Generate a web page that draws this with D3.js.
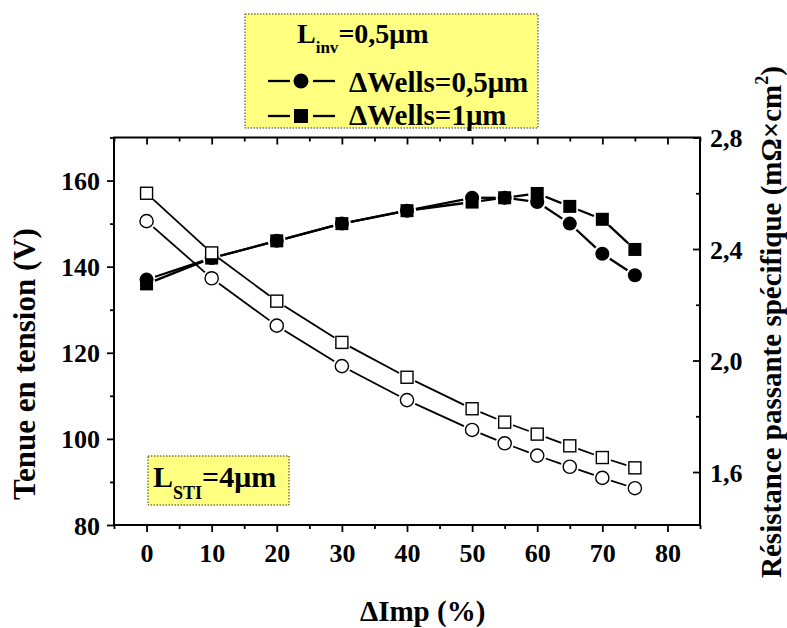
<!DOCTYPE html>
<html>
<head>
<meta charset="utf-8">
<script src="https://cdn.jsdelivr.net/npm/d3@7"></script>
<style>
  html, body { margin: 0; padding: 0; background: #fff; }
  svg { display: block; }
</style>
</head>
<body>
<svg id="chart" width="787" height="628"></svg>
<script>
// ---- data ----
const impValues = [0, 10, 20, 30, 40, 50, 55, 60, 65, 70, 75];
const bvWells05 = [137, 142, 146, 150, 153, 156, 156, 155, 150, 143, 138];
const bvWells1  = [136, 142, 146, 150, 153, 155, 156, 157, 154, 151, 144];
const ronWells05 = [2.50, 2.295, 2.125, 1.98, 1.858, 1.751, 1.703, 1.659, 1.619, 1.579, 1.542];
const ronWells1  = [2.60, 2.386, 2.213, 2.065, 1.94, 1.827, 1.779, 1.736, 1.694, 1.652, 1.615];
const xTicks = [0, 10, 20, 30, 40, 50, 60, 70, 80];
const xMinorTicks = [-5, 5, 15, 25, 35, 45, 55, 65, 75, 85];
const yLeftTicks = [80, 100, 120, 140, 160];
const yLeftMinor = [90, 110, 130, 150, 170];
const yRightTicks = [1.6, 2.0, 2.4, 2.8];
const yRightTickLabels = ["1,6", "2,0", "2,4", "2,8"];
const yRightMinor = [1.8, 2.2, 2.6];

const FONT = "Liberation Serif";
const svg = d3.select("#chart");
const L = 114, R = 700, T = 137.5, B = 525;
const x = d3.scaleLinear().domain([-5, 85]).range([L, R]);
const yL = d3.scaleLinear().domain([80, 170]).range([B, T]);
const yR = d3.scaleLinear().domain([1.41, 2.8]).range([B, T]);
const yellow = "#ffff80";

function txt(sel) {
  return sel.attr("font-family", FONT).attr("font-weight", "bold").attr("fill", "#000");
}

// ---- axes ----
function styleAxis(g) {
  g.attr("font-family", FONT).attr("font-weight", "bold");
  g.select(".domain").remove();
  g.selectAll(".tick line").attr("stroke", "#000").attr("stroke-width", 1.8);
  g.selectAll(".tick text").attr("font-family", FONT).attr("font-weight", "bold").attr("fill", "#000");
}
// bottom (outward)
svg.append("g").attr("transform", `translate(0,${B})`)
  .call(d3.axisBottom(x).tickValues(xTicks).tickSize(7).tickPadding(8).tickFormat(d3.format("d")))
  .call(styleAxis)
  .call(g => g.selectAll("text").attr("font-size", 26).attr("dy", null).attr("y", 37));
svg.append("g").attr("transform", `translate(0,${B})`)
  .call(d3.axisBottom(x).tickValues(xMinorTicks).tickSize(4).tickFormat(""))
  .call(styleAxis);
// top (inward)
svg.append("g").attr("transform", `translate(0,${T})`)
  .call(d3.axisTop(x).tickValues(xTicks).tickSize(-7).tickFormat(""))
  .call(styleAxis);
svg.append("g").attr("transform", `translate(0,${T})`)
  .call(d3.axisTop(x).tickValues(xMinorTicks).tickSize(-4).tickFormat(""))
  .call(styleAxis);
// left (outward)
svg.append("g").attr("transform", `translate(${L},0)`)
  .call(d3.axisLeft(yL).tickValues(yLeftTicks).tickSize(7).tickPadding(7).tickFormat(d3.format("d")))
  .call(styleAxis)
  .call(g => g.selectAll("text").attr("font-size", 26).attr("dy", null).attr("y", 9));
svg.append("g").attr("transform", `translate(${L},0)`)
  .call(d3.axisLeft(yL).tickValues(yLeftMinor).tickSize(4).tickFormat(""))
  .call(styleAxis);
// right (inward)
svg.append("g").attr("transform", `translate(${R},0)`)
  .call(d3.axisRight(yR).tickValues(yRightTicks).tickSize(-7).tickPadding(17)
    .tickFormat((d, i) => yRightTickLabels[i]))
  .call(styleAxis)
  .call(g => g.selectAll("text").attr("font-size", 26).attr("dy", null).attr("y", 9).attr("x", 10));
svg.append("g").attr("transform", `translate(${R},0)`)
  .call(d3.axisRight(yR).tickValues(yRightMinor).tickSize(-4).tickFormat(""))
  .call(styleAxis);

// frame
svg.append("rect").attr("x", L).attr("y", T).attr("width", R - L).attr("height", B - T)
  .attr("fill", "none").attr("stroke", "#000").attr("stroke-width", 2);

// ---- series ----
function gappedSegments(pts, gap, width) {
  const g = svg.append("g");
  for (let i = 0; i < pts.length - 1; i++) {
    const [x0, y0] = pts[i], [x1, y1] = pts[i + 1];
    const dx = x1 - x0, dy = y1 - y0, len = Math.hypot(dx, dy);
    if (len <= 2 * gap) continue;
    const ux = dx / len, uy = dy / len;
    g.append("line")
      .attr("x1", x0 + ux * gap).attr("y1", y0 + uy * gap)
      .attr("x2", x1 - ux * gap).attr("y2", y1 - uy * gap)
      .attr("stroke", "#000").attr("stroke-width", width);
  }
}
function drawSeries(vals, yScale, shape, filled, lw) {
  const pts = impValues.map((v, i) => [x(v), yScale(vals[i])]);
  gappedSegments(pts, 9, lw);
  const g = svg.append("g");
  pts.forEach(([px, py]) => {
    if (shape === "circle") {
      g.append("circle").attr("cx", px).attr("cy", py).attr("r", filled ? 7 : 6.6)
        .attr("fill", filled ? "#000" : "#fff").attr("stroke", "#000").attr("stroke-width", filled ? 0 : 1.4);
    } else {
      const s = filled ? 13 : 12;
      g.append("rect").attr("x", px - s / 2).attr("y", py - s / 2).attr("width", s).attr("height", s)
        .attr("fill", filled ? "#000" : "#fff").attr("stroke", "#000").attr("stroke-width", filled ? 0 : 1.4);
    }
  });
}
drawSeries(bvWells05, yL, "circle", true, 2.3);
drawSeries(bvWells1, yL, "square", true, 2.3);
drawSeries(ronWells05, yR, "circle", false, 1.8);
drawSeries(ronWells1, yR, "square", false, 1.8);

// ---- axis titles ----
svg.append("text").call(txt).attr("x", 360).attr("y", 621).attr("font-size", 29).text("ΔImp (%)");
svg.append("text").call(txt).attr("transform", "translate(35,364) rotate(-90)")
  .attr("text-anchor", "middle").attr("font-size", 31).text("Tenue en tension (V)");
const rt = svg.append("text").call(txt).attr("transform", "translate(781,322) rotate(-90)")
  .attr("text-anchor", "middle").attr("font-size", 29);
rt.append("tspan").text("Résistance passante spécifique (mΩ×cm");
rt.append("tspan").attr("dy", -13).attr("font-size", 18).text("2");
rt.append("tspan").attr("dy", 13).text(")");

// ---- legend box ----
svg.append("rect").attr("x", 245).attr("y", 14).attr("width", 293).attr("height", 114)
  .attr("fill", yellow).attr("stroke", "#333").attr("stroke-width", 1).attr("stroke-dasharray", "1.5,1.5");
const lt = svg.append("text").call(txt).attr("x", 297).attr("y", 43).attr("font-size", 28);
lt.append("tspan").text("L");
lt.append("tspan").attr("dy", 10).attr("font-size", 17).text("inv");
lt.append("tspan").attr("dy", -10).text("=0,5μm");

const legendItems = [
  { label: "ΔWells=0,5μm", shape: "circle", cy: 81, base: 92 },
  { label: "ΔWells=1μm", shape: "square", cy: 116, base: 125 }
];
legendItems.forEach(it => {
  svg.append("line").attr("x1", 268).attr("x2", 290).attr("y1", it.cy).attr("y2", it.cy)
    .attr("stroke", "#000").attr("stroke-width", 2.3);
  svg.append("line").attr("x1", 313).attr("x2", 335).attr("y1", it.cy).attr("y2", it.cy)
    .attr("stroke", "#000").attr("stroke-width", 2.3);
  if (it.shape === "circle") {
    svg.append("circle").attr("cx", 301).attr("cy", it.cy).attr("r", 7.5).attr("fill", "#000");
  } else {
    svg.append("rect").attr("x", 294).attr("y", it.cy - 7).attr("width", 14).attr("height", 14).attr("fill", "#000");
  }
  svg.append("text").call(txt).attr("x", 349).attr("y", it.base).attr("font-size", 29).text(it.label);
});

// ---- L_STI box ----
svg.append("rect").attr("x", 148).attr("y", 456).attr("width", 141).attr("height", 49)
  .attr("fill", yellow).attr("stroke", "#333").attr("stroke-width", 1).attr("stroke-dasharray", "1.5,1.5");
const st = svg.append("text").call(txt).attr("x", 153).attr("y", 487).attr("font-size", 30);
st.append("tspan").text("L");
st.append("tspan").attr("dy", 12).attr("font-size", 18).text("STI");
st.append("tspan").attr("dy", -12).text("=4μm");
</script>
</body>
</html>
